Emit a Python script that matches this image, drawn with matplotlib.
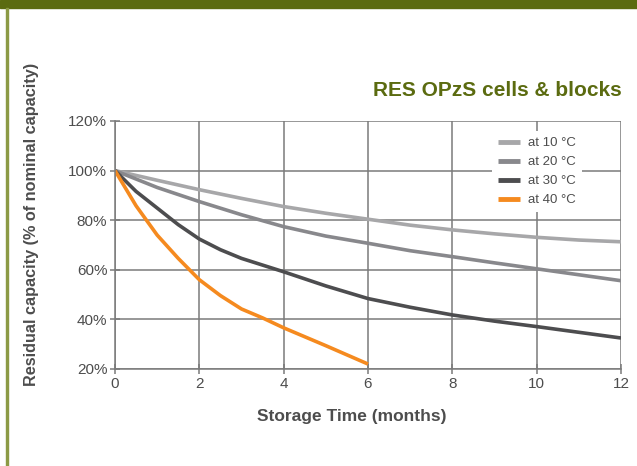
import matplotlib.pyplot as plt
from matplotlib.patches import Rectangle

plt.rcParams['font.family'] = ['Liberation Sans', 'DejaVu Sans']

# storage time in months
months = [0, 1, 2, 3, 4, 5, 6, 7, 8, 9, 10, 11, 12]
months_30 = [0, 0.5, 1, 1.5, 2, 2.5, 3, 3.5, 4, 5, 6, 7, 8, 9, 10, 11, 12]
months_40 = [0, 0.5, 1, 1.5, 2, 2.5, 3, 3.5, 4, 5, 6]

# residual capacity (% of nominal capacity)
cap_10 = [100, 96.1, 92.3, 88.8, 85.5, 82.8, 80.4, 78.0, 76.1, 74.5, 73.1, 72.0, 71.3]
cap_20 = [100, 93.2, 87.5, 82.2, 77.4, 73.6, 70.7, 67.7, 65.3, 62.8, 60.4, 58.0, 55.6]
cap_30 = [100, 91.6, 84.9, 78.2, 72.4, 68.1, 64.6, 61.9, 59.2, 53.5, 48.4, 44.9, 41.8,
          39.3, 37.1, 34.8, 32.5]
cap_40 = [100, 85.8, 74.0, 64.6, 56.0, 49.6, 44.2, 40.6, 36.6, 29.4, 22.0]

labels = ['at 10 °C', 'at 20 °C', 'at 30 °C', 'at 40 °C']
colors = ['#a7a7a9', '#88888c', '#4d4d4f', '#f58a1f']

green = '#5b6b10'
txt = '#4d4d4d'
gridc = '#7a7a7a'

fig = plt.figure(figsize=(6.37, 4.66), dpi=100)
fig.patches.append(Rectangle((0, 1 - 8 / 466), 1, 8 / 466, transform=fig.transFigure,
                             color=green, zorder=0))
fig.patches.append(Rectangle((6 / 637, 0), 2 / 637, 1 - 8 / 466, transform=fig.transFigure,
                             color='#8c9a45', zorder=0))

ax = fig.add_axes([115 / 637, 1 - 369 / 466, (621 - 115) / 637, (369 - 121) / 466])

lw = 2.6
ax.plot(months, cap_10, color=colors[0], lw=lw, label=labels[0], solid_capstyle='butt')
ax.plot(months, cap_20, color=colors[1], lw=lw, label=labels[1], solid_capstyle='butt')
ax.plot(months_30, cap_30, color=colors[2], lw=lw, label=labels[2], solid_capstyle='butt')
ax.plot(months_40, cap_40, color=colors[3], lw=lw, label=labels[3], solid_capstyle='butt')

ax.set_xlim(0, 12)
ax.set_ylim(20, 120)
ax.set_xticks(range(0, 13, 2))
ax.set_yticks(range(20, 121, 20))
ax.set_yticklabels([f'{v}%' for v in range(20, 121, 20)])
ax.grid(True, color=gridc, lw=1.1)
ax.set_axisbelow(True)
for s in ['top', 'right']:
    ax.spines[s].set_visible(False)
for s in ['left', 'bottom']:
    ax.spines[s].set_color(gridc)
    ax.spines[s].set_linewidth(1.1)
ax.tick_params(direction='inout', length=7, width=1.1, color=gridc,
               labelsize=11, labelcolor=txt, pad=2)

fig.text(352 / 637, 1 - 416 / 466, 'Storage Time (months)', ha='center', va='center',
         fontsize=12.5, fontweight='bold', color=txt)
fig.text(32 / 637, 1 - 224 / 466, 'Residual capacity (% of nominal capacity)', ha='center',
         va='center', rotation=90, fontsize=11.7, fontweight='bold', color=txt)

fig.text(622 / 637, 1 - 90 / 466, 'RES OPzS cells & blocks', ha='right', va='center',
         fontsize=15, fontweight='bold', color=green)

leg = ax.legend(loc='upper right', bbox_to_anchor=(582 / 637, 1 - 131 / 466),
                bbox_transform=fig.transFigure, frameon=True, fontsize=9.5,
                handlelength=1.7, handletextpad=0.6, labelspacing=0.52,
                borderpad=0.45, borderaxespad=0)
leg.get_frame().set_facecolor('white')
leg.get_frame().set_edgecolor('none')
leg.get_frame().set_alpha(1)
for t in leg.get_texts():
    t.set_color(txt)
for l in leg.get_lines():
    l.set_linewidth(3.5)

fig.savefig('out.png', dpi=100)
